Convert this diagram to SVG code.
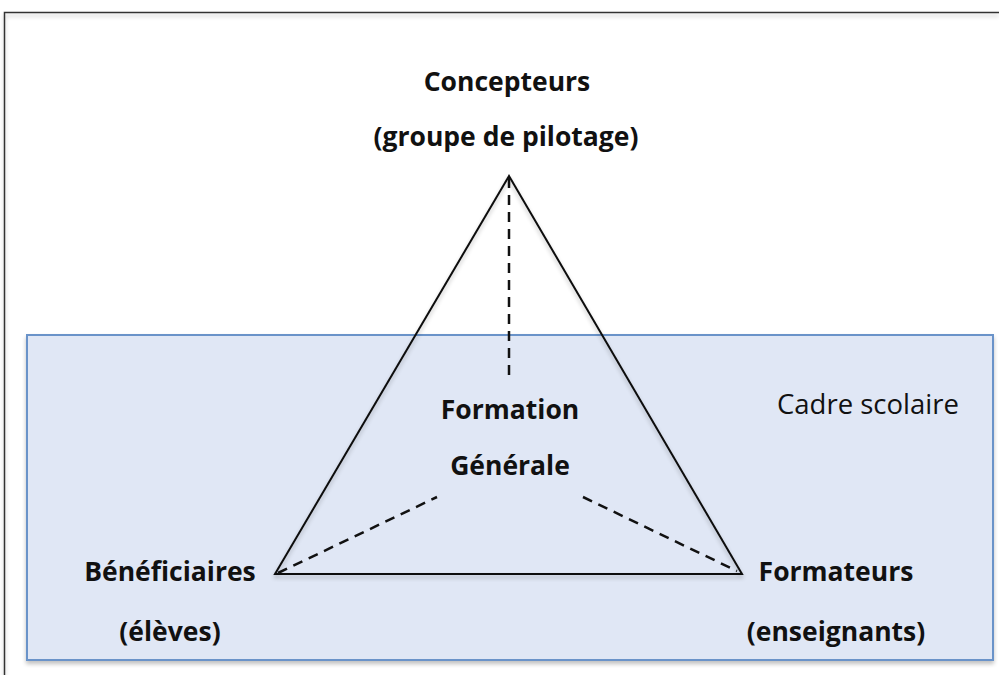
<svg xmlns="http://www.w3.org/2000/svg" width="999" height="675" viewBox="0 0 999 675">
<defs>
<filter id="sh" x="-5%" y="-5%" width="110%" height="115%">
<feGaussianBlur in="SourceAlpha" stdDeviation="2"/>
<feOffset dx="0" dy="3" result="b"/>
<feComponentTransfer><feFuncA type="linear" slope="0.25"/></feComponentTransfer>
<feMerge><feMergeNode/><feMergeNode in="SourceGraphic"/></feMerge>
</filter>
<style>
.b{font-family:"Open Sans","Liberation Sans",sans-serif;font-weight:bold;font-size:26.5px;fill:#111;text-anchor:middle}
.r{font-family:"Open Sans","Liberation Sans",sans-serif;font-size:27.5px;fill:#111}
.ln{stroke:#111;stroke-width:2;fill:none}
.dash{stroke:#111;stroke-width:2.5;fill:none;stroke-dasharray:10,7}
</style>
</defs>
<rect width="999" height="675" fill="#fff"/>
<g id="frame"><path d="M4.5,675 V12.5 H999" fill="none" stroke="#333" stroke-width="1.5" filter="url(#sh)"/></g>
<g id="cadre">
<rect x="27" y="335" width="966" height="325" fill="#E0E7F5" stroke="#6B93C9" stroke-width="2" filter="url(#sh)"/>
<text class="r" x="777" y="414">Cadre scolaire</text>
</g>
<g id="connectors">
<polygon class="ln" points="509,176 275,574 742,574" filter="url(#sh)"/>
<line class="dash" x1="509" y1="178" x2="509" y2="382"/>
<line class="dash" x1="278" y1="573" x2="437" y2="497"/>
<line class="dash" x1="583" y1="497" x2="737" y2="571"/>
</g>
<g id="concepteurs"><text class="b" x="507" y="91">Concepteurs</text><text class="b" x="506" y="146">(groupe de pilotage)</text></g>
<g id="formation"><text class="b" x="510" y="419">Formation</text><text class="b" x="510" y="475">Générale</text></g>
<g id="beneficiaires"><text class="b" x="170" y="581">Bénéficiaires</text><text class="b" x="170" y="641">(élèves)</text></g>
<g id="formateurs"><text class="b" x="836" y="581">Formateurs</text><text class="b" x="836" y="641">(enseignants)</text></g>
</svg>
